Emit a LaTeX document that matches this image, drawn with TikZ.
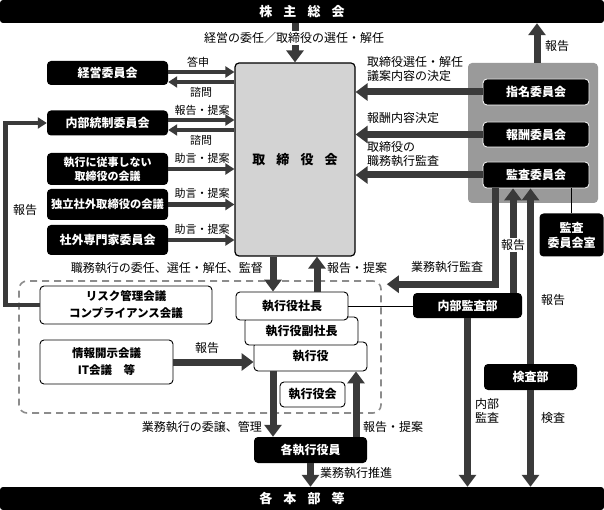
\documentclass[tikz,border=0pt]{standalone}
\usepackage{fontspec}
\setmainfont{Noto Sans CJK JP}
\usetikzlibrary{arrows.meta,calc}

\definecolor{arrowgray}{HTML}{3A3A3A}
\definecolor{panelgray}{HTML}{9A9A9A}
\definecolor{boardgray}{HTML}{D3D3D3}
\definecolor{dashgray}{HTML}{8C8C8C}
\newcommand\fsz[2]{\fontsize{#1}{#2}\selectfont}

\begin{document}
\begin{tikzpicture}[
    x=1pt, y=-1pt,
    blackbox/.style={rectangle, fill=black, text=white, rounded corners=4pt,
                     inner sep=0pt, align=center, font=\bfseries\fsz{12}{14}},
    panelbox/.style={blackbox, draw=white, line width=0.8pt,
                     minimum width=106pt, minimum height=26pt},
    leftbox/.style={blackbox, minimum width=121pt},
    whitebox/.style={rectangle, draw=black, fill=white, rounded corners=4pt,
                     line width=0.9pt, inner sep=0pt, align=center,
                     font=\bfseries\fsz{12}{17}},
    bar/.style={blackbox, rounded corners=3pt, minimum width=604pt,
                minimum height=23pt, font=\bfseries\fsz{13}{13}},
    lbl/.style={inner sep=0pt, align=center, font=\fsz{12}{14}},
    smalllbl/.style={lbl, font=\fsz{11}{13}},
    fat/.style={draw=arrowgray, line width=7pt, -{Triangle[width=17pt,length=12pt]}},
    slim/.style={draw=arrowgray, line width=4.5pt, -{Triangle[width=11pt,length=9pt]}}
]
\useasboundingbox (0,0) rectangle (604,510);

% frames
\node (frame) [rectangle, draw=dashgray, line width=1.6pt, dash pattern=on 7pt off 5pt,
               rounded corners=8pt, minimum width=362pt, minimum height=132pt] at (200, 347) {};
\node (panel) [rectangle, fill=panelgray, rounded corners=4pt,
               minimum width=130pt, minimum height=140pt] at (533, 133) {};

\node (soukai) [bar] at (302, 11.5) {株\hspace{.85em}主\hspace{.85em}総\hspace{.85em}会};
\node (honbu) [bar] at (302, 498.5) {各\hspace{.85em}本\hspace{.85em}部\hspace{.85em}等};

\node (tori) [rectangle, fill=boardgray, draw=black, line width=1.2pt, rounded corners=4pt,
              minimum width=120pt, minimum height=193pt, font=\bfseries\fsz{13}{13}]
      at (295, 159.5) {取\hspace{.85em}締\hspace{.85em}役\hspace{.85em}会};

% left side
\node (keiei) [leftbox, minimum height=24pt] at (107.5, 73) {経営委員会};
\node (naibu) [leftbox, minimum height=25pt] at (107.5, 123) {内部統制委員会};
\node (hishikkou) [leftbox, minimum height=32pt, font=\bfseries\fsz{11}{14}] at (107.5, 169) {執行に従事しない\\取締役の会議};
\node (dokuritsu) [leftbox, minimum height=31pt, font=\bfseries\fsz{11.3}{14}] at (107.5, 204.5) {独立社外取締役の会議};
\node (shagai) [leftbox, minimum height=30pt] at (107.5, 240) {社外専門家委員会};

% committees
\node (shimei) [panelbox] at (536, 92) {指名委員会};
\node (houshu) [panelbox, minimum height=25pt] at (536, 134.5) {報酬委員会};
\node (kansa) [panelbox] at (536, 175) {監査委員会};
\node (kansashitsu) [blackbox, minimum width=64pt, minimum height=43pt, font=\bfseries\fsz{12}{15}]
      at (571.5, 235) {監査\\委員会室};

% execution
\node (risk) [whitebox, minimum width=172pt, minimum height=38pt, font=\bfseries\fsz{11.5}{17}]
      at (126, 305) {リスク管理会議\\コンプライアンス会議};
\node (jouhou) [whitebox, minimum width=133pt, minimum height=44pt, font=\bfseries\fsz{11.5}{17}]
      at (106.5, 362) {情報開示会議\\IT会議　等};
\node (shikkouyaku) [whitebox, minimum width=113pt, minimum height=29pt] at (310.5, 356.5) {執行役};
\node (fuku) [whitebox, minimum width=113pt, minimum height=28pt] at (301.5, 331) {執行役副社長};
\node (shacho) [whitebox, minimum width=112pt, minimum height=28pt] at (292, 306) {執行役社長};
\node (yakuinkai) [whitebox, minimum width=65pt, minimum height=25pt] at (312.5, 394.5) {執行役会};
\node (kakushikkou) [blackbox, minimum width=113pt, minimum height=26pt] at (310.5, 450) {各執行役員};
\node (naibukansa) [blackbox, minimum width=109pt, minimum height=25pt] at (467.5, 305.5) {内部監査部};
\node (kensa) [blackbox, minimum width=93pt, minimum height=26pt] at (530.5, 377) {検査部};

% top
\draw [fat] (soukai.south -| tori.north) -- (tori.north);
\node (l-inin) [lbl, fill=white, inner sep=1pt] at (294, 38) {経営の委任／取締役の選任・解任};
\draw [fat] ($(panel.north)+(4,0)$) -- ($(soukai.south -| panel.north)+(4,0)$);
\node (l-hokoku1) [lbl, anchor=west] at (545, 46) {報告};

% left arrows
\draw [slim] ($(keiei.east)+(0,-1)$) -- ($(keiei.east -| tori.west)+(0,-1)$);
\draw [slim] ($(keiei.east -| tori.west)+(0,9)$) -- ($(keiei.east)+(0,9)$);
\draw [slim] ($(naibu.east)+(0,-3)$) -- ($(naibu.east -| tori.west)+(0,-3)$);
\draw [slim] ($(naibu.east -| tori.west)+(0,7)$) -- ($(naibu.east)+(0,7)$);
\draw [slim] (hishikkou.east) -- (hishikkou.east -| tori.west);
\draw [slim] (dokuritsu.east) -- (dokuritsu.east -| tori.west);
\draw [slim] (shagai.east) -- (shagai.east -| tori.west);
\node (l-toushin) [smalllbl] at (198, 62) {答申};
\node (l-shimon1) [smalllbl] at (201, 92) {諮問};
\node (l-teian1) [smalllbl] at (202, 110) {報告・提案};
\node (l-shimon2) [smalllbl] at (201, 140) {諮問};
\node (l-jogen1) [smalllbl] at (202, 158) {助言・提案};
\node (l-jogen2) [smalllbl] at (202, 193) {助言・提案};
\node (l-jogen3) [smalllbl] at (202, 229) {助言・提案};

% report back to internal control
\draw [slim] (risk.west) -- ++(-34,0) |- (naibu.west);
\node (l-hokoku2) [lbl] at (25, 210) {報告};

% committees to board
\draw [fat] (shimei.west) -- (shimei.west -| tori.east);
\draw [fat] (houshu.west) -- (houshu.west -| tori.east);
\draw [fat] (kansa.west) -- (kansa.west -| tori.east);
\node (l-sennin) [lbl, anchor=north west, align=left] at (367, 56) {取締役選任・解任\\議案内容の決定};
\node (l-houshu) [lbl, anchor=west] at (367, 118) {報酬内容決定};
\node (l-kansa) [lbl, anchor=north west, align=left] at (367, 141) {取締役の\\職務執行監査};

% board and officers
\draw [fat] ($(tori.south -| shacho.north)+(-19,0)$) -- ($(shacho.north)+(-19,0)$);
\draw [fat] ($(shacho.north)+(25,0)$) -- ($(tori.south -| shacho.north)+(25,0)$);
\node (l-ininsennin) [lbl, anchor=east] at (263, 268) {職務執行の委任、選任・解任、監督};
\node (l-teian2) [lbl, anchor=west] at (327, 268) {報告・提案};
\draw [fat] (jouhou.east) -- (jouhou.east -| shikkouyaku.west);
\node (l-hokoku3) [lbl] at (207, 348) {報告};
\draw [black, line width=1pt] (shacho.east) -- (shacho.east -| naibukansa.west);

% audit
\draw [fat] ($(kansa.south)+(-41,0)$) |- ($(frame.north east)+(5,4)$);
\node (l-gyoumu) [lbl] at (447, 267) {業務執行監査};
\draw [fat] ($(naibukansa.north -| kansa.south)+(-23,0)$) -- ($(kansa.south)+(-23,0)$);
\node (l-hokoku4) [lbl, fill=white, inner sep=1pt] at (513, 245) {報告};
\draw [fat] (kensa.north) -- (kensa.north |- kansa.south);
\node (l-hokoku5) [lbl] at (553, 300) {報告};
\draw [black, line width=1pt] (kansa.south -| kansashitsu.north) -- (kansashitsu.north);
\draw [fat] (naibukansa.south) -- (naibukansa.south |- honbu.north);
\node (l-naibu) [lbl] at (487, 411) {内部\\監査};
\draw [fat] (kensa.south) -- (kensa.south |- honbu.north);
\node (l-kensa) [lbl] at (553, 418) {検査};

% officers down
\draw [fat] ($(shikkouyaku.south)+(-37.5,0)$) -- ($(kakushikkou.north)+(-37.5,0)$);
\draw [fat] ($(kakushikkou.north)+(45.5,0)$) -- ($(shikkouyaku.south)+(45.5,0)$);
\node (l-jouto) [lbl, anchor=east] at (262, 427) {業務執行の委譲、管理};
\node (l-teian3) [lbl, anchor=west] at (363, 427) {報告・提案};
\draw [fat] (kakushikkou.south) -- (kakushikkou.south |- honbu.north);
\node (l-suishin) [lbl, anchor=west] at (320, 473) {業務執行推進};
\end{tikzpicture}
\end{document}
